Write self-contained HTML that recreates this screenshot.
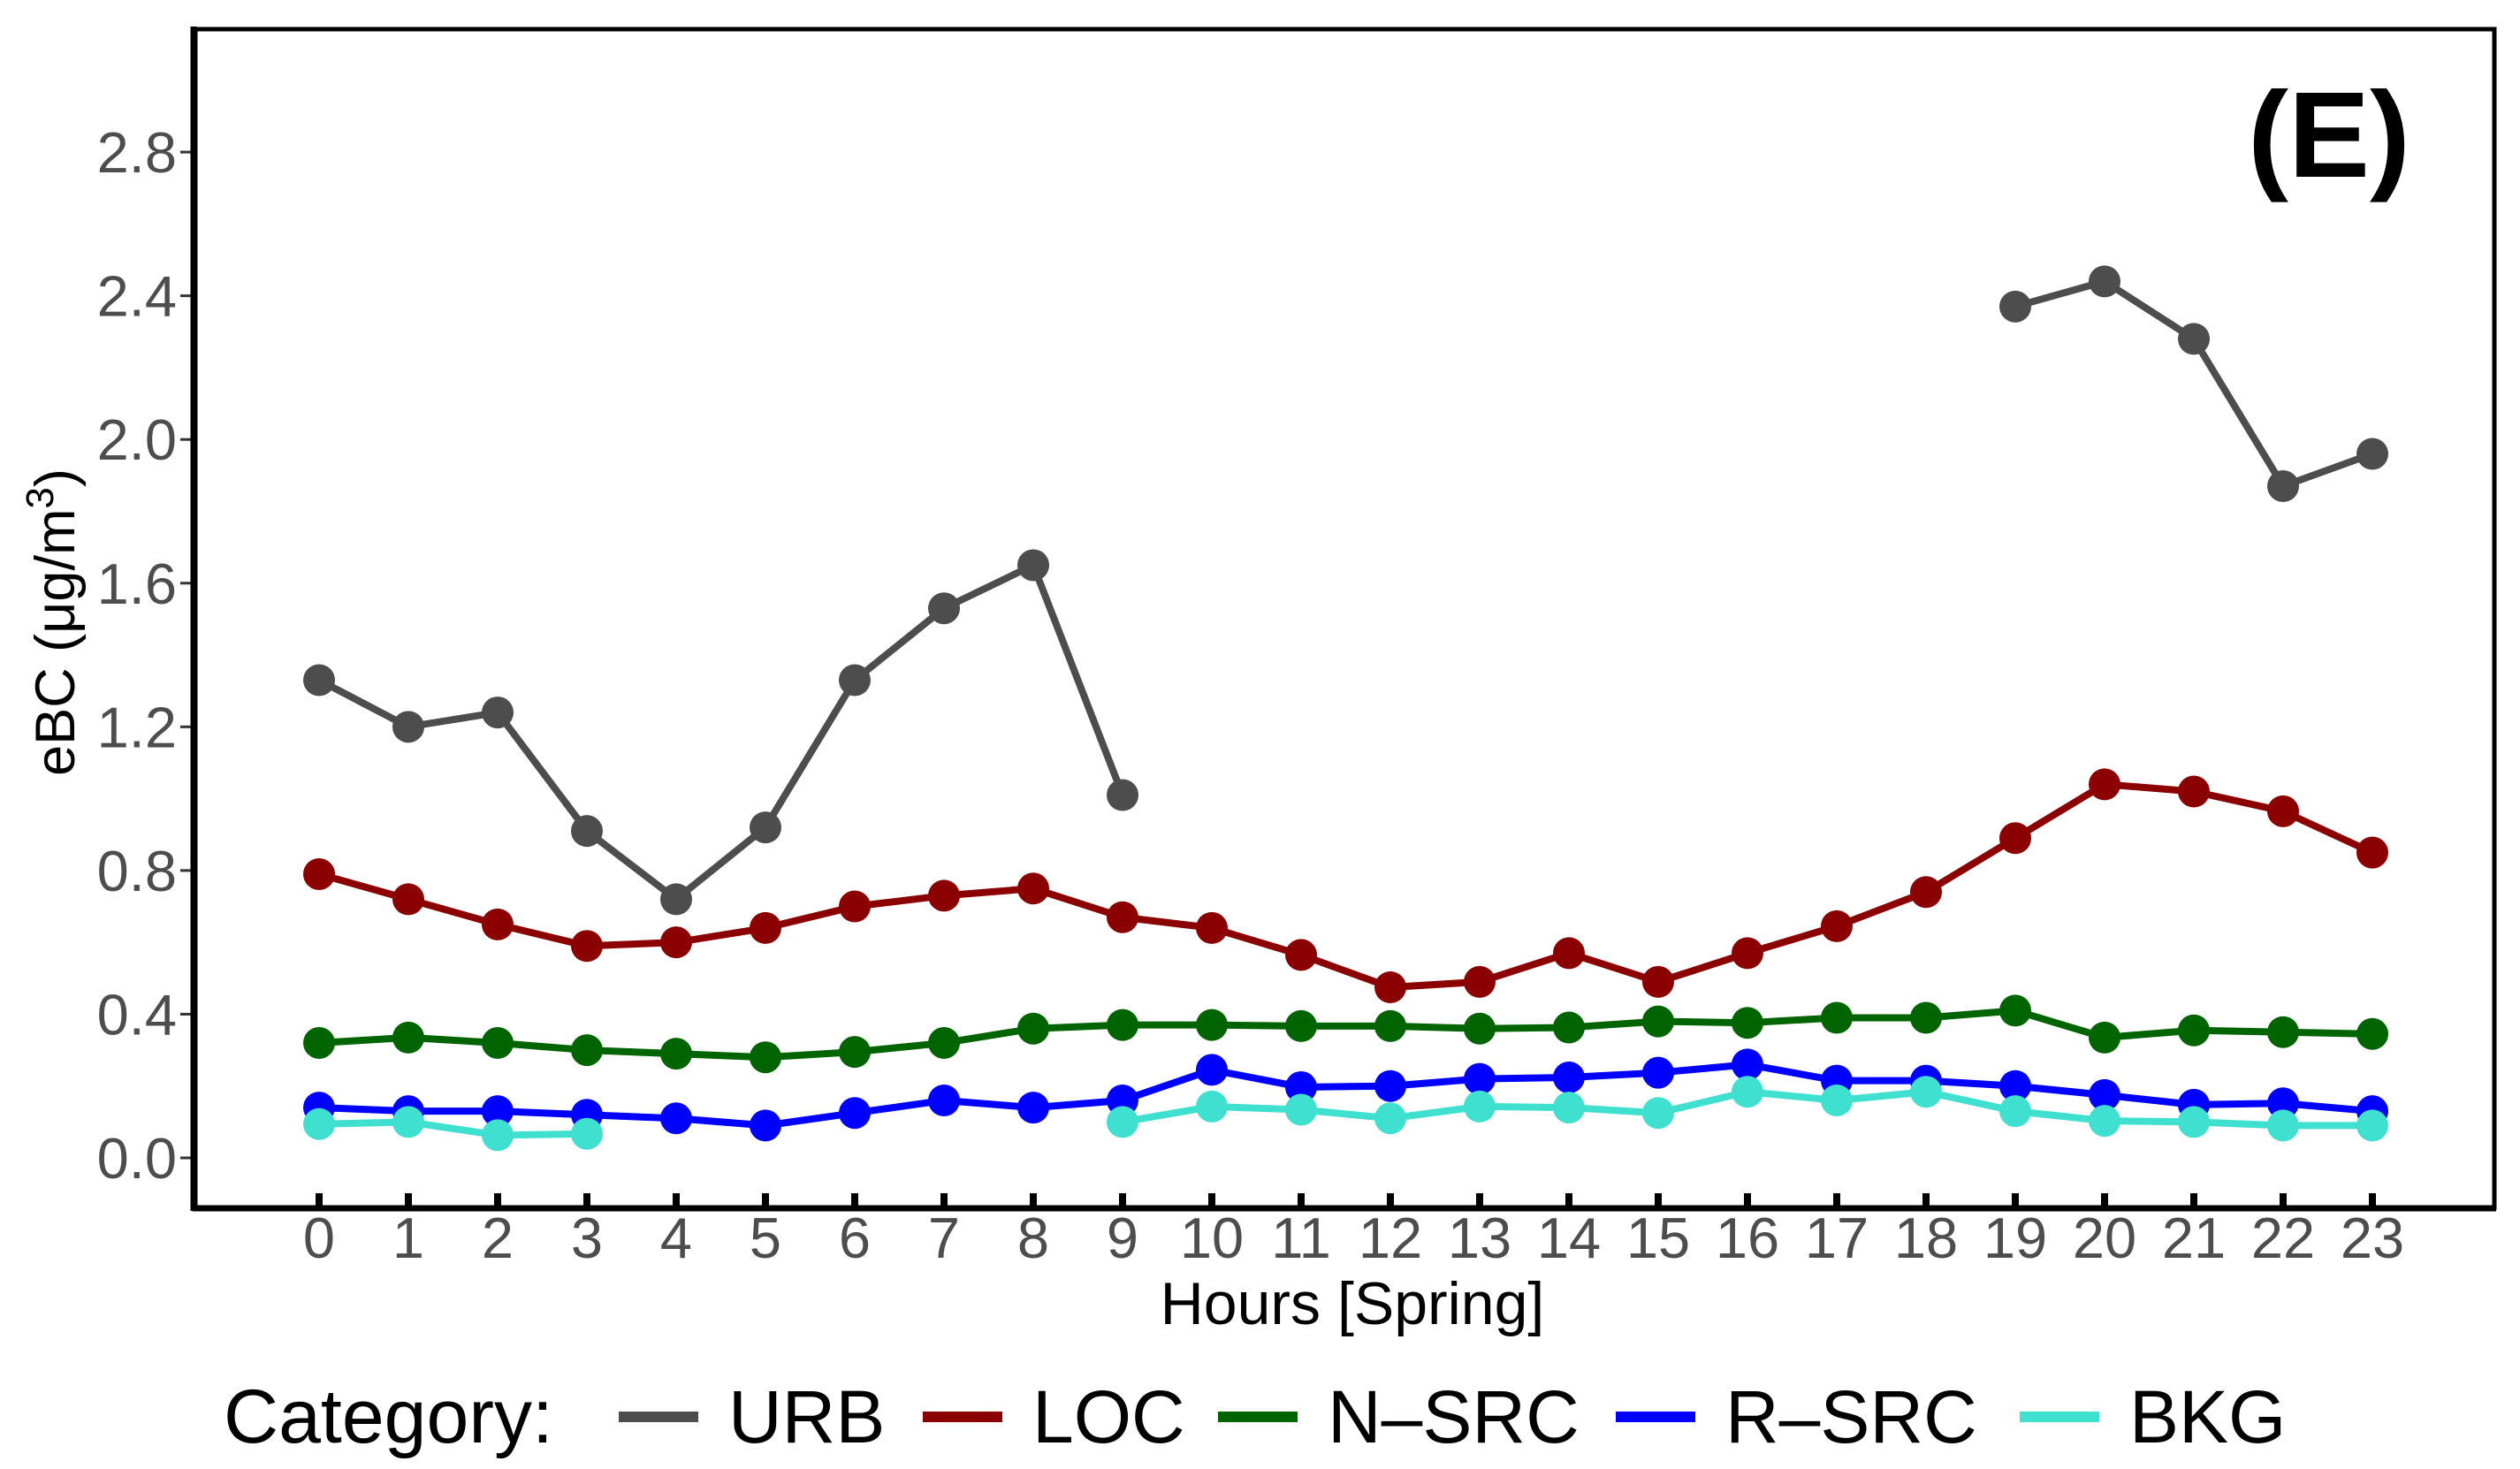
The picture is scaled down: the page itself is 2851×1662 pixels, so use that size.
<!DOCTYPE html>
<html><head><meta charset="utf-8"><style>
html,body{margin:0;padding:0;background:#fff;}
svg{display:block;font-family:"Liberation Sans",sans-serif;}
</style></head><body>
<svg id="chart" width="2851" height="1662" viewBox="0 0 2851 1662" xmlns="http://www.w3.org/2000/svg">
<rect x="0" y="0" width="2851" height="1662" fill="#fff"/>
<g id="grid"></g>
<g id="series"></g>
<rect x="221" y="33" width="2601" height="1333" fill="none" stroke="#000" stroke-width="5"/>
<line x1="218" y1="1367" x2="2824" y2="1367" stroke="#000" stroke-width="7"/>
<line x1="219" y1="30" x2="219" y2="1370" stroke="#000" stroke-width="7"/>
<text x="2635" y="200" text-anchor="middle" font-size="138" font-weight="bold" fill="#000">(E)</text>
<text x="1530" y="1498" text-anchor="middle" font-size="68" fill="#000">Hours [Spring]</text>
<text transform="translate(84,704) rotate(-90)" text-anchor="middle" font-size="63" fill="#000">eBC (μg/m<tspan dy="-24" font-size="44">3</tspan><tspan dy="24">)</tspan></text>
<g id="legend">
<text x="253" y="1632" font-size="86" fill="#000">Category:</text>
</g>
</svg>
<script>
const hours = [0,1,2,3,4,5,6,7,8,9,10,11,12,13,14,15,16,17,18,19,20,21,22,23];
const yTicks = [0.0,0.4,0.8,1.2,1.6,2.0,2.4,2.8];
const yTickLabels = ["0.0","0.4","0.8","1.2","1.6","2.0","2.4","2.8"];
const seriesNames = ["URB","LOC","N\u2013SRC","R\u2013SRC","BKG"];
const urb = [1.33,1.20,1.24,0.91,0.72,0.92,1.33,1.53,1.65,1.01,null,null,null,null,null,null,null,null,null,2.37,2.44,2.28,1.87,1.96];
const loc = [0.79,0.72,0.65,0.59,0.60,0.64,0.70,0.73,0.75,0.67,0.64,0.565,0.475,0.49,0.57,0.49,0.57,0.645,0.74,0.89,1.04,1.02,0.965,0.85];
const nsrc = [0.32,0.335,0.32,0.30,0.29,0.28,0.295,0.32,0.36,0.37,0.37,0.367,0.367,0.36,0.363,0.38,0.376,0.39,0.39,0.41,0.335,0.355,0.35,0.345];
const rsrc = [0.14,0.13,0.13,0.12,0.11,0.09,0.125,0.16,0.14,0.16,0.245,0.197,0.2,0.22,0.224,0.237,0.26,0.215,0.215,0.2,0.175,0.148,0.152,0.13];
const bkg = [0.094,0.10,0.063,0.067,null,null,null,null,null,0.10,0.143,0.134,0.11,0.143,0.14,0.125,0.184,0.16,0.184,0.13,0.103,0.10,0.09,0.09];

const NS = "http://www.w3.org/2000/svg";
const colors = ["#4d4d4d","#8b0000","#006400","#0000ff","#40e0d0"];
const allSeries = [urb, loc, nsrc, rsrc, bkg];
function xs(h){ return 361 + h * 101; }
function ys(v){ return 1310 - v * 406.4; }
function mk(tag, attrs, parent){ const e=document.createElementNS(NS,tag); for(const k in attrs) e.setAttribute(k,attrs[k]); parent.appendChild(e); return e; }

const axes = document.getElementById('grid');
yTicks.forEach((t,i)=>{
  const l = mk('line',{x1:204,x2:219,y1:ys(t),y2:ys(t),stroke:'#333','stroke-width':3},axes);
  
  
  const tx = mk('text',{x:200,y:ys(t)+23,'text-anchor':'end','font-size':65,fill:'#4d4d4d'},axes);
  tx.textContent = yTickLabels[i];
  
  
});
hours.forEach(h=>{
  const l = mk('line',{x1:xs(h),x2:xs(h),y1:1350,y2:1368,stroke:'#000','stroke-width':8},axes);
  
  
  const tx = mk('text',{x:xs(h),y:1423,'text-anchor':'middle','font-size':65,fill:'#4d4d4d'},axes);
  tx.textContent = String(h);
  
  
});

const sg = document.getElementById('series');
allSeries.forEach((vals,si)=>{
  const g = mk('g',{},sg);
  
  
  let d = '', pen = false;
  vals.forEach((v,i)=>{
    if(v===null){ pen=false; return; }
    d += (pen?'L':'M') + xs(hours[i]) + ' ' + ys(v) + ' ';
    pen = true;
  });
  const p = mk('path',{d:d,fill:'none',stroke:colors[si],'stroke-width':8,'stroke-linejoin':'round'},g);
  
  
  vals.forEach((v,i)=>{
    if(v===null) return;
    const c = mk('circle',{cx:xs(hours[i]),cy:ys(v),r:18,fill:colors[si]},g);
    
    
  });
});

const lg = document.getElementById('legend');
const keyX = [700,1044,1378,1828,2285];
seriesNames.forEach((n,i)=>{
  const l = mk('line',{x1:keyX[i],x2:keyX[i]+90,y1:1603,y2:1603,stroke:colors[i],'stroke-width':12},lg);
  
  
  const t = mk('text',{x:keyX[i]+124,y:1632,'font-size':84,fill:'#000'},lg);
  t.textContent = n;
  
  
});
</script>
</body></html>
